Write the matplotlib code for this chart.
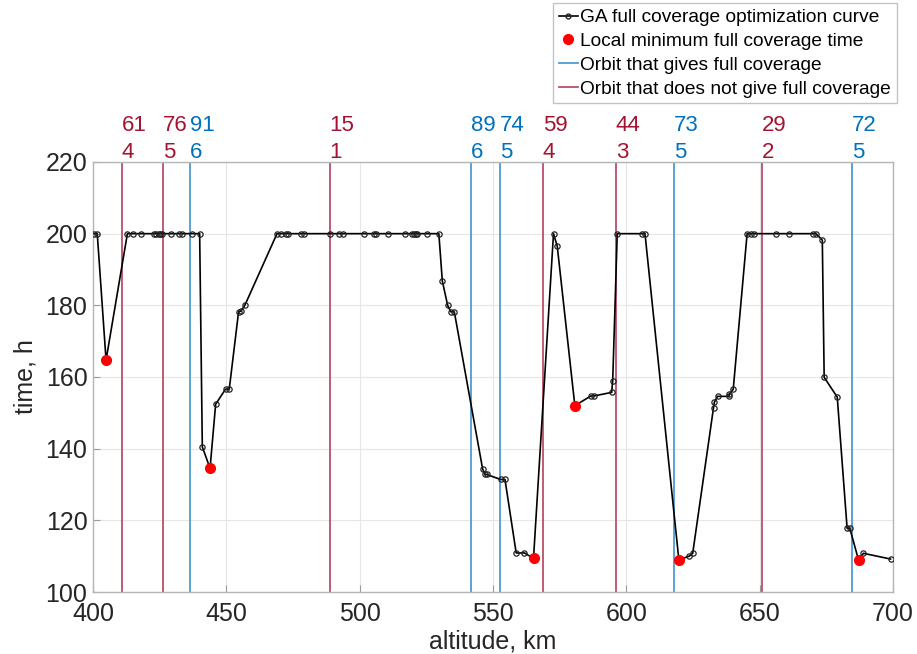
import matplotlib
matplotlib.use("Agg")
import matplotlib.pyplot as plt
from matplotlib.lines import Line2D
import matplotlib.transforms as mtransforms

plt.rcParams['font.family'] = ['Liberation Sans', 'DejaVu Sans']

# GA optimisation curve: altitude (km) vs full coverage time (h)
altitude = [400.4, 401.6, 404.9, 412.9, 415.1, 418.1, 423.0, 423.8, 424.6, 425.3,
            425.8, 429.1, 432.1, 433.5, 437.1, 440.0, 441.0, 443.9, 446.0, 449.7,
            451.1, 454.6, 455.5, 457.0, 469.0, 470.5, 472.3, 473.0, 478.0, 479.3,
            489.0, 492.2, 493.6, 501.5, 505.2, 506.1, 510.7, 517.0, 519.6, 520.3,
            521.0, 521.6, 525.3, 529.7, 531.0, 533.0, 534.2, 535.5, 546.1, 547.0,
            547.6, 552.9, 554.5, 558.7, 561.8, 565.2, 572.7, 574.1, 580.7, 586.7,
            587.8, 594.5, 594.9, 596.6, 606.0, 607.0, 619.7, 623.6, 624.9, 632.7,
            633.0, 634.2, 638.5, 638.6, 640.1, 645.3, 646.6, 647.9, 656.1, 660.9,
            670.1, 671.1, 673.5, 674.2, 679.1, 682.8, 683.8, 687.1, 688.9, 699.1]
cover_time = [200, 200, 164.7, 200, 200, 200, 200, 200, 200, 200,
              200, 200, 200, 200, 200, 200, 140.5, 134.5, 152.4, 156.6,
              156.6, 178.2, 178.4, 180.1, 200, 200, 200, 200, 200, 200,
              200, 200, 200, 200, 200, 200, 200, 200, 200, 200,
              200, 200, 200, 200, 186.8, 180.0, 178.2, 178.2, 134.4, 132.8,
              132.8, 131.4, 131.4, 110.9, 110.9, 109.4, 200, 196.5, 152.0, 154.7,
              154.7, 155.7, 159.0, 200, 200, 200, 109.0, 110.0, 110.8, 151.4,
              152.9, 154.6, 154.6, 155.2, 156.6, 200, 200, 200, 200, 200,
              200, 200, 198.2, 159.9, 154.4, 117.8, 117.8, 108.9, 110.8, 109.2]

# local minima of the coverage time
min_altitude = [404.9, 443.9, 565.2, 580.7, 619.7, 687.1]
min_time = [164.7, 134.5, 109.4, 152.0, 109.0, 108.9]

# repeat ground track orbits: altitude, revolutions, days, full coverage flag
orbit_altitude = [410.7, 426.1, 436.4, 488.7, 541.8, 552.5, 568.7, 596.0, 617.9, 651.0, 684.7]
orbit_revs = [61, 76, 91, 15, 89, 74, 59, 44, 73, 29, 72]
orbit_days = [4, 5, 6, 1, 6, 5, 4, 3, 5, 2, 5]
orbit_full = [False, False, True, False, True, True, False, False, True, False, True]

BLUE = '#0072BD'
RED = '#A2142F'
LINE_BLUE = '#4F9BD0'
LINE_RED = '#B8516A'

fig = plt.figure(figsize=(9.17, 6.54), dpi=100)
ax = fig.add_axes([0.1014, 0.0948, 0.8724, 0.6575])

for xa, full in zip(orbit_altitude, orbit_full):
    ax.axvline(xa, color=LINE_BLUE if full else LINE_RED, lw=1.3, zorder=2)

ax.plot(altitude, cover_time, color='black', lw=1.2, marker='o', ms=3.8,
        mfc='none', mec='#222222', mew=0.9, zorder=3)
ax.plot(min_altitude, min_time, ls='none', marker='o', ms=7, color='#FF0000',
        mec='#FF0000', zorder=4)

# revolutions / days labels above each orbit line
trans = mtransforms.blended_transform_factory(ax.transData, ax.transAxes)
for xa, n, d, full in zip(orbit_altitude, orbit_revs, orbit_days, orbit_full):
    c = BLUE if full else RED
    ax.text(xa, 1.086, str(n), transform=trans, ha='left', va='center',
            fontsize=16, color=c, clip_on=False)
    ax.text(xa, 1.023, str(d), transform=trans, ha='left', va='center',
            fontsize=16, color=c, clip_on=False)

ax.set_xlim(400, 700)
ax.set_ylim(100, 220)
ax.set_xticks(range(400, 701, 50))
ax.set_yticks(range(100, 221, 20))
ax.grid(True, color='#E6E6E6', lw=0.8)
ax.set_axisbelow(True)
for s in ax.spines.values():
    s.set_color('#B5B5B5')
    s.set_linewidth(1.0)
ax.tick_params(direction='in', length=5, color='#9A9A9A', labelsize=18,
               labelcolor='#262626', top=False, right=False)
ax.tick_params(axis='x', pad=7)
ax.tick_params(axis='y', pad=4)
ax.set_xlabel('altitude, km', fontsize=18, color='#262626', labelpad=3)
ax.set_ylabel('time, h', fontsize=18, color='#262626', labelpad=6)

handles = [
    Line2D([], [], color='black', lw=1.2, marker='o', ms=3.5, mfc='none', mec='#222222'),
    Line2D([], [], ls='none', marker='o', ms=7, color='#FF0000'),
    Line2D([], [], color=LINE_BLUE, lw=1.3),
    Line2D([], [], color=LINE_RED, lw=1.3),
]
labels = ['GA full coverage optimization curve', 'Local minimum full coverage time',
          'Orbit that gives full coverage', 'Orbit that does not give full coverage']
leg = fig.legend(handles, labels, loc='upper right', bbox_to_anchor=(0.978, 0.995),
                 bbox_transform=fig.transFigure, fontsize=13.8, frameon=True,
                 fancybox=False, edgecolor='#B5B5B5', handlelength=1.0,
                 handletextpad=0.12, labelspacing=0.33, borderpad=0.3,
                 borderaxespad=0.0, numpoints=1)
leg.get_frame().set_linewidth(1.0)

fig.savefig('out.png', dpi=100, facecolor='white')
